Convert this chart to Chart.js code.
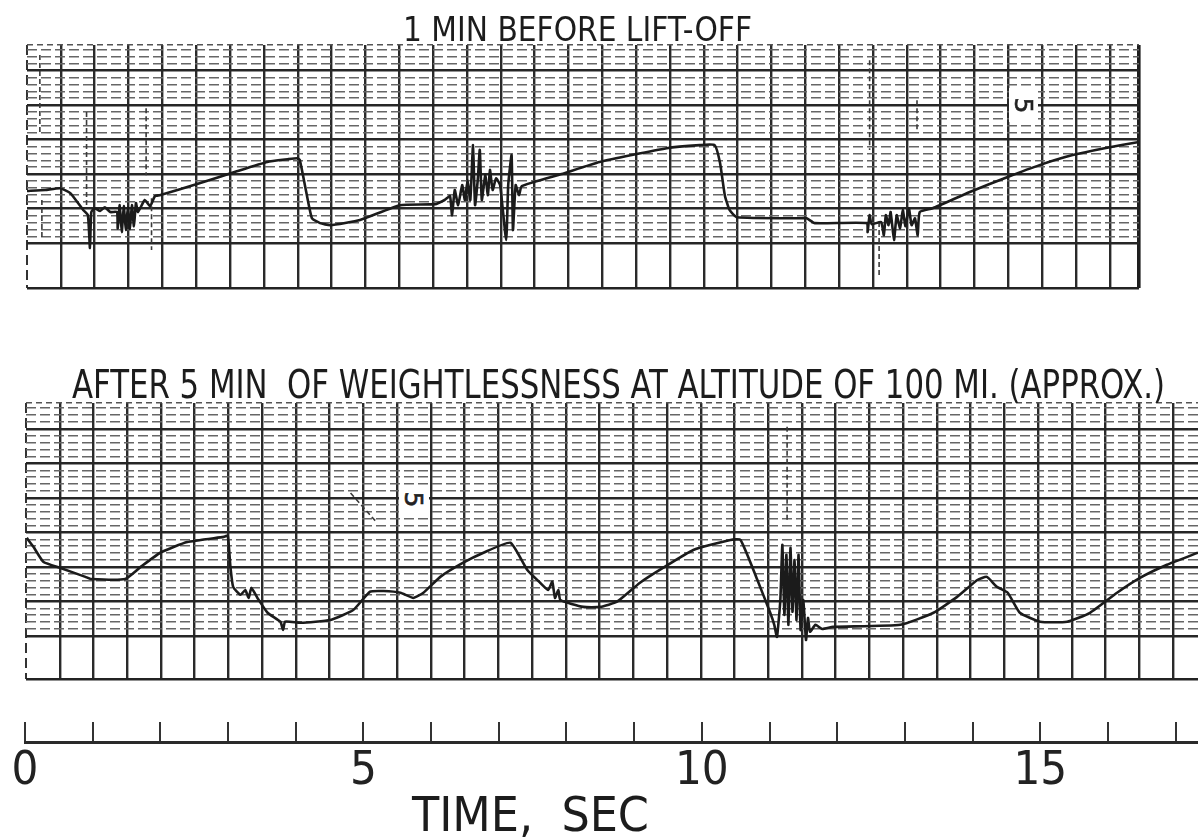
<!DOCTYPE html>
<html>
<head>
<meta charset="utf-8">
<script src="https://cdn.jsdelivr.net/npm/chart.js@4.4.1/dist/chart.umd.min.js"></script>
<style>
  body { margin: 0; background: #fff; width: 1198px; height: 839px; overflow: hidden; position: relative; }
  canvas { position: absolute; left: 0; top: 0; }
  .text { position: absolute; white-space: nowrap; line-height: 1; transform-origin: 0 0; color: #1c1c1c;
          font-family: "DejaVu Sans Condensed", "DejaVu Sans", sans-serif; z-index: 5; }
  .fuenf { position: absolute; background: #fff; z-index: 4; display: flex; align-items: center; justify-content: center;
           font-family: "DejaVu Sans", sans-serif; font-size: 25px; color: #222; -webkit-text-stroke: 0.6px #222; }
  .fuenf span { display: inline-block; transform: rotate(90deg); }
</style>
</head>
<body>
<canvas id="oben" width="1198" height="839"></canvas>
<canvas id="unten" width="1198" height="839"></canvas>
<canvas id="zeitachse" width="1198" height="839"></canvas>

<div class="text" id="titelOben">1 MIN BEFORE LIFT-OFF</div>
<div class="text" id="titelUnten">AFTER 5 MIN&nbsp;&nbsp;OF WEIGHTLESSNESS AT ALTITUDE OF 100 MI. (APPROX.)</div>
<div class="text" id="achsenTitel">TIME,&nbsp;&nbsp;SEC</div>
<div class="fuenf" style="left:1009px; top:88px; width:29px; height:34px;"><span>5</span></div>
<div class="fuenf" style="left:399px; top:485px; width:30px; height:28px;"><span>5</span></div>

<script>
// Messkurve oben: 1 min vor dem Start (Zeit in s, Wert in Rasterteilungen)
const obenZeit = [0.00, 0.27, 0.49, 0.64, 0.83, 0.90, 0.93, 0.95, 1.00, 1.08, 1.15, 1.23, 1.33, 1.34, 1.37, 1.40, 1.43, 1.46,
  1.49, 1.52, 1.55, 1.58, 1.61, 1.64, 1.74, 1.82, 1.89, 1.96, 2.56, 3.10, 3.55, 3.85, 3.99, 4.03, 4.12, 4.21, 4.33, 4.48,
  4.92, 5.51, 6.03, 6.17, 6.25, 6.28, 6.32, 6.37, 6.43, 6.47, 6.51, 6.55, 6.59, 6.62, 6.66, 6.69, 6.72, 6.77, 6.81, 6.84,
  6.88, 6.93, 6.99, 7.08, 7.11, 7.16, 7.18, 7.22, 7.27, 7.31, 7.90, 8.46, 9.45, 9.94, 10.16, 10.24, 10.31, 10.38, 10.49,
  11.42, 11.52, 11.64, 12.41, 12.42, 12.45, 12.48, 12.62, 12.66, 12.69, 12.73, 12.76, 12.81, 12.85, 12.90, 12.94, 12.98,
  13.03, 13.07, 13.12, 13.16, 13.19, 13.38, 13.93, 14.48, 14.96, 15.45, 15.92, 16.43];
const obenWert = [1.51, 1.54, 1.59, 1.45, 0.96, 0.81, -0.14, 0.90, 1.01, 0.93, 1.04, 0.90, 0.90, 0.43, 1.10, 0.32, 1.07, 0.38,
  1.04, 0.41, 1.10, 0.49, 1.16, 0.90, 1.25, 1.07, 1.36, 1.39, 1.74, 2.08, 2.35, 2.43, 2.46, 2.41, 1.54, 0.72, 0.58, 0.52,
  0.67, 1.10, 1.13, 1.25, 1.36, 0.81, 1.54, 1.10, 1.68, 1.25, 1.83, 1.25, 2.84, 1.10, 1.83, 2.70, 1.25, 1.97, 1.39, 2.12,
  1.54, 1.88, 1.68, 0.09, 1.68, 2.55, 0.38, 1.68, 1.39, 1.65, 2.00, 2.35, 2.75, 2.84, 2.84, 2.32, 1.39, 0.96, 0.75,
  0.72, 0.72, 0.58, 0.58, 0.32, 0.81, 0.55, 0.61, 0.23, 0.81, 0.52, 0.90, 0.09, 0.81, 0.43, 0.96, 0.49,
  1.01, 0.52, 0.72, 0.23, 0.90, 1.01, 1.48, 1.91, 2.26, 2.55, 2.75, 2.93];

// feine gestrichelte Störstriche oben (null = Lücke)
const obenStoerZeit = [0.19, 0.19, 0.19, 0.22, 0.22, 0.22, 0.88, 0.88, 0.88, 1.76, 1.76, 1.76, 1.84, 1.84, 1.84,
  12.45, 12.45, 12.45, 12.59, 12.59, 12.59, 13.15, 13.15];
const obenStoerWert = [5.45, 3.13, null, 1.25, 0.09, null, 3.80, 1.01, null, 3.91, 1.97, null, 1.30, -0.20, null,
  5.30, 2.70, null, 0.61, -1.01, null, 4.14, 3.28];

// Messkurve unten: nach 5 min Schwerelosigkeit
const untenZeit = [0.01, 0.11, 0.26, 0.51, 0.88, 0.96, 1.47, 1.70, 1.99, 2.39, 2.93, 2.99, 3.03, 3.07, 3.18, 3.25, 3.30, 3.34,
  3.43, 3.58, 3.77, 3.81, 3.84, 4.07, 4.51, 4.85, 5.10, 5.30, 5.55, 5.74, 5.89, 6.14, 6.48, 6.78, 7.18, 7.43, 7.62, 7.74,
  7.80, 7.84, 7.89, 7.92, 8.26, 8.51, 8.76, 9.10, 9.44, 9.89, 10.44, 10.59, 10.84, 11.03, 11.09, 11.13, 11.18, 11.21, 11.24,
  11.27, 11.30, 11.33, 11.36, 11.39, 11.42, 11.45, 11.48, 11.52, 11.56, 11.59, 11.62, 11.70, 11.80, 11.96, 12.96, 13.45,
  13.80, 14.10, 14.24, 14.39, 14.55, 14.73, 15.03, 15.43, 15.77, 16.17, 16.51, 16.91, 17.37];
const untenWert = [2.84, 2.58, 2.14, 1.97, 1.71, 1.65, 1.65, 2.00, 2.41, 2.72, 2.87, 2.90, 2.00, 1.42, 1.19, 1.33, 1.10, 1.39,
  1.10, 0.67, 0.41, 0.17, 0.41, 0.38, 0.46, 0.75, 1.28, 1.30, 1.25, 1.10, 1.25, 1.71, 2.12, 2.41, 2.70, 1.91, 1.54, 1.33,
  1.57, 1.10, 1.33, 1.04, 0.84, 0.84, 0.99, 1.54, 1.97, 2.49, 2.78, 2.78, 1.62, 0.67, 0.32, -0.03, 1.04, 2.64, 0.61,
  2.35, 0.32, 2.55, 0.70, 2.20, 0.46, 2.35, 0.17, 1.04, -0.12, 0.52, 0.12, 0.32, 0.20, 0.26, 0.32, 0.67,
  1.13, 1.62, 1.71, 1.42, 1.25, 0.67, 0.41, 0.41, 0.67, 1.25, 1.68, 2.06, 2.41];

const untenStoerZeit = [11.28, 11.28, null, 4.81, 5.18];
const untenStoerWert = [6.06, 3.36, null, 4.14, 3.33];

// Zeitachse
const zeitTicks = [0, 1, 2, 3, 4, 5, 6, 7, 8, 9, 10, 11, 12, 13, 14, 15, 16, 17];
const zeitBeschriftung = ["0", "", "", "", "", "5", "", "", "", "", "10", "", "", "", "", "15", "", ""];

// Linienarten des Registrierpapiers
const stile = {
  rand:       { color: "#232323", width: 2.6, dash: [] },
  randOben:   { color: "#555555", width: 1.4, dash: [6, 4] },
  randLinks:  { color: "#333333", width: 2.0, dash: [10, 5] },
  randRechts: { color: "#1e1e1e", width: 3.6, dash: [] },
  haupt:      { color: "#262626", width: 2.6, dash: [] },
  neben:      { color: "#666666", width: 1.4, dash: [10, 4] },
  senk:       { color: "#2a2a2a", width: 2.4, dash: [] },
  leer:       { color: "rgba(0,0,0,0)", width: 0, dash: [] }
};

function waagRaster(unten, oben, anzahlHaupt) {
  const liste = [{ wert: unten, art: "rand" }];
  for (let i = 0; i <= Math.floor(oben / 0.2 + 1e-6); i++) {
    const v = Math.round(i * 2) / 10;
    liste.push({ wert: v, art: (i % 5 === 0 && v <= anzahlHaupt) ? "haupt" : "neben" });
  }
  liste.push({ wert: oben, art: "randOben" });
  return liste;
}

function senkRaster(bis, mitRechtsRand) {
  const liste = [{ wert: 0, art: "randLinks" }];
  for (let v = 0.5; v < bis - 0.05; v += 0.5) liste.push({ wert: v, art: "senk" });
  if (mitRechtsRand) liste.push({ wert: bis, art: "randRechts" });
  return liste;
}

function stilVon(liste, ctx) {
  return stile[liste[ctx.index] ? liste[ctx.index].art : "leer"];
}

function skala(liste, min, max, istY) {
  return {
    type: "linear",
    position: istY ? "left" : "bottom",
    min: min,
    max: max,
    afterBuildTicks: s => { s.ticks = liste.map(e => ({ value: e.wert })); },
    afterFit: s => { if (istY) s.width = 0; else s.height = 0; },
    ticks: { display: false },
    border: { display: false, dash: ctx => stilVon(liste, ctx).dash },
    grid: {
      drawTicks: false,
      color: ctx => stilVon(liste, ctx).color,
      lineWidth: ctx => stilVon(liste, ctx).width
    }
  };
}

function punkte(zeit, wert) {
  return zeit.map((t, i) => ({ x: t, y: wert[i] }));
}

function erstellePanel(canvasId, zeit, wert, stoerZeit, stoerWert, xListe, yListe, xMax, yMin, yMax, polster) {
  new Chart(document.getElementById(canvasId), {
    type: "line",
    data: {
      datasets: [
        {
          data: punkte(zeit, wert),
          borderColor: "#1b1b1b",
          borderWidth: 2.6,
          pointRadius: 0,
          tension: 0.15,
          borderJoinStyle: "round"
        },
        {
          data: punkte(stoerZeit, stoerWert),
          borderColor: "#3a3a3a",
          borderWidth: 1.6,
          borderDash: [5, 3],
          pointRadius: 0,
          spanGaps: false
        }
      ]
    },
    options: {
      responsive: false,
      devicePixelRatio: 1,
      animation: false,
      events: [],
      layout: { padding: polster },
      plugins: { legend: { display: false }, tooltip: { enabled: false } },
      scales: {
        x: skala(xListe, 0, xMax, false),
        y: skala(yListe, yMin, yMax, true)
      }
    }
  });
}

erstellePanel("oben", obenZeit, obenWert, obenStoerZeit, obenStoerWert,
  senkRaster(16.43, true), waagRaster(-1.3, 5.74, 5), 16.43, -1.3, 5.74,
  { left: 27, top: 45, right: 59, bottom: 551 });

erstellePanel("unten", untenZeit, untenWert, untenStoerZeit, untenStoerWert,
  senkRaster(17.37, false), waagRaster(-1.25, 6.75, 6), 17.37, -1.25, 6.75,
  { left: 26, top: 403, right: 0, bottom: 160 });

// Zeitachse mit kurzen Strichen nach oben
new Chart(document.getElementById("zeitachse"), {
  type: "line",
  data: { datasets: [] },
  options: {
    responsive: false,
    devicePixelRatio: 1,
    animation: false,
    events: [],
    layout: { padding: { left: 25, top: 722, right: 0, bottom: 0 } },
    plugins: { legend: { display: false }, tooltip: { enabled: false } },
    scales: {
      x: {
        type: "linear",
        min: 0,
        max: 17.33,
        afterBuildTicks: s => { s.ticks = zeitTicks.map(v => ({ value: v })); },
        afterFit: s => { s.height = 97; },
        ticks: {
          autoSkip: false,
          maxRotation: 0,
          padding: 2,
          color: "#222",
          font: { family: "DejaVu Sans Condensed", size: 47 },
          callback: (wert, index) => zeitBeschriftung[index]
        },
        border: { display: true, color: "#2a2a2a", width: 3 },
        grid: { drawTicks: false, color: "#333", lineWidth: 2 }
      },
      y: { display: false, min: 0, max: 1 }
    }
  }
});

// Überschriften auf Breite bringen
function setzeText(id, links, kappeOben, kappenHoehe, breite) {
  const el = document.getElementById(id);
  const groesse = kappenHoehe / 0.729;
  el.style.fontSize = groesse + "px";
  el.style.left = links + "px";
  el.style.top = (kappeOben - 0.117 * groesse) + "px";
  const w = el.getBoundingClientRect().width;
  el.style.transform = "scaleX(" + (breite / w) + ")";
}
setzeText("titelOben", 403, 18, 24, 349);
setzeText("titelUnten", 72, 370, 28, 1093);
setzeText("achsenTitel", 412, 796, 35, 237);
</script>
</body>
</html>
